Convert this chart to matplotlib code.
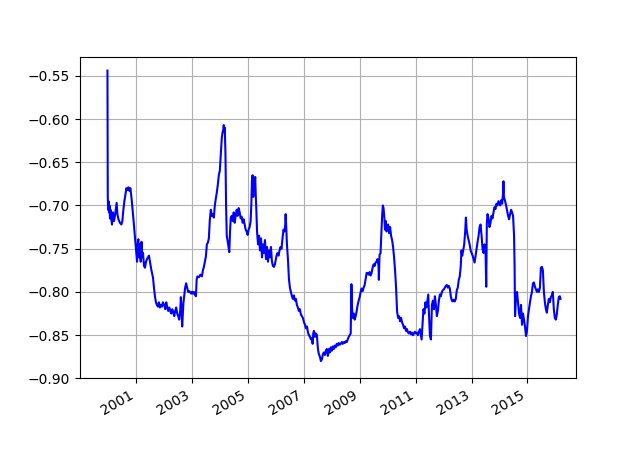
import matplotlib
matplotlib.use("Agg")
import matplotlib.pyplot as plt
import matplotlib.dates as mdates
import pandas as pd

# spread series
dates = [
    "1999-12-20", "1999-12-24", "1999-12-29", "2000-01-03", "2000-01-09", "2000-01-16",
    "2000-01-22", "2000-01-29", "2000-02-04", "2000-02-17", "2000-03-01", "2000-03-14",
    "2000-03-27", "2000-04-09", "2000-04-18", "2000-04-28", "2000-05-12", "2000-05-31",
    "2000-06-19", "2000-07-02", "2000-07-15", "2000-07-28", "2000-08-10", "2000-08-23",
    "2000-09-06", "2000-09-19", "2000-10-02", "2000-10-15", "2000-10-28", "2000-11-10",
    "2000-11-23", "2000-12-07", "2000-12-20", "2001-01-03",
    "2001-01-10", "2001-01-17", "2001-01-27", "2001-02-05", "2001-02-12", "2001-02-18",
    "2001-02-27", "2001-03-10", "2001-03-20", "2001-03-29", "2001-04-11", "2001-04-24",
    "2001-05-07", "2001-05-20", "2001-06-02", "2001-06-15", "2001-06-28", "2001-07-11",
    "2001-07-24", "2001-08-06", "2001-08-19", "2001-09-01", "2001-09-14", "2001-09-27",
    "2001-10-10", "2001-10-23", "2001-11-05", "2001-11-18", "2001-12-01", "2001-12-14",
    "2002-01-01", "2002-01-14", "2002-01-27", "2002-02-09", "2002-02-22", "2002-03-07",
    "2002-03-20", "2002-04-02", "2002-04-15", "2002-04-28", "2002-05-11", "2002-05-24",
    "2002-06-06", "2002-06-19", "2002-07-02", "2002-07-15", "2002-07-28", "2002-08-06",
    "2002-08-14", "2002-08-23", "2002-08-30", "2002-09-09", "2002-09-18", "2002-10-01",
    "2002-10-14", "2002-10-27", "2002-11-09", "2002-11-22", "2002-12-05", "2002-12-18",
    "2002-12-31",
    "2003-01-11", "2003-01-24", "2003-02-06", "2003-02-19", "2003-02-28", "2003-03-10",
    "2003-03-30", "2003-04-18", "2003-05-08", "2003-05-21", "2003-06-03", "2003-06-16",
    "2003-06-29", "2003-07-12", "2003-07-25", "2003-08-07", "2003-08-20", "2003-09-02",
    "2003-09-15", "2003-09-28", "2003-10-11", "2003-10-24", "2003-11-06", "2003-11-19",
    "2003-12-02", "2003-12-15", "2003-12-28",
    "2004-01-10", "2004-01-23", "2004-02-01", "2004-02-12", "2004-02-18", "2004-02-25",
    "2004-03-02", "2004-03-11", "2004-03-19", "2004-03-28", "2004-04-10", "2004-04-23",
    "2004-04-30", "2004-05-10", "2004-05-19", "2004-06-01", "2004-06-14", "2004-06-27",
    "2004-07-10", "2004-07-23", "2004-08-05", "2004-08-18", "2004-08-31", "2004-09-13",
    "2004-09-26", "2004-10-09", "2004-10-22", "2004-11-04", "2004-11-17", "2004-11-30",
    "2004-12-13", "2004-12-26",
    "2005-01-08", "2005-01-21", "2005-02-03", "2005-02-12", "2005-02-20", "2005-03-01",
    "2005-03-10", "2005-03-17", "2005-03-26", "2005-04-04", "2005-04-12", "2005-04-18",
    "2005-04-28", "2005-05-11", "2005-05-24", "2005-06-06", "2005-06-19", "2005-07-02",
    "2005-07-15", "2005-07-28", "2005-08-10", "2005-08-23", "2005-09-05", "2005-09-18",
    "2005-10-01", "2005-10-14", "2005-10-27", "2005-11-09", "2005-11-22", "2005-12-05",
    "2005-12-18",
    "2006-01-08", "2006-01-21", "2006-02-03", "2006-02-16", "2006-03-01", "2006-03-14",
    "2006-03-27", "2006-04-09", "2006-04-22", "2006-05-02", "2006-05-07", "2006-05-15",
    "2006-05-24", "2006-06-06", "2006-06-19", "2006-07-02", "2006-07-15", "2006-07-28",
    "2006-08-10", "2006-08-23", "2006-09-05", "2006-09-18", "2006-10-01", "2006-10-14",
    "2006-10-27", "2006-11-09", "2006-11-22", "2006-12-05", "2006-12-18",
    "2007-01-02", "2007-01-15", "2007-01-28", "2007-02-10", "2007-02-23", "2007-03-08",
    "2007-03-21", "2007-04-03", "2007-04-16", "2007-04-25", "2007-05-03", "2007-05-12",
    "2007-05-25", "2007-06-07", "2007-06-20", "2007-07-03", "2007-07-16", "2007-07-29",
    "2007-08-11", "2007-08-24", "2007-09-06", "2007-09-19", "2007-10-02", "2007-10-15",
    "2007-10-28", "2007-11-10", "2007-11-23", "2007-12-06", "2007-12-19",
    "2008-01-01", "2008-01-14", "2008-01-27", "2008-02-09", "2008-02-22", "2008-03-06",
    "2008-03-19", "2008-04-01", "2008-04-14", "2008-04-27", "2008-05-10", "2008-05-23",
    "2008-06-05", "2008-06-18", "2008-07-01", "2008-07-14", "2008-07-27", "2008-08-09",
    "2008-08-22", "2008-09-04", "2008-09-13", "2008-09-21", "2008-09-30", "2008-10-13",
    "2008-10-26", "2008-11-08", "2008-11-21", "2008-12-04", "2008-12-17", "2008-12-30",
    "2009-01-12", "2009-01-25", "2009-02-07", "2009-02-20", "2009-03-05", "2009-03-18",
    "2009-03-31", "2009-04-13", "2009-04-26", "2009-05-09", "2009-05-22", "2009-06-04",
    "2009-06-17", "2009-06-30", "2009-07-13", "2009-07-26", "2009-08-08", "2009-08-21",
    "2009-09-03", "2009-09-07", "2009-09-16", "2009-09-29", "2009-10-08", "2009-10-19",
    "2009-10-29", "2009-11-07", "2009-11-16", "2009-11-27", "2009-12-07", "2009-12-16",
    "2010-01-06", "2010-01-19", "2010-02-01", "2010-02-14", "2010-02-27", "2010-03-12",
    "2010-03-25", "2010-04-07", "2010-04-20", "2010-05-03", "2010-05-16", "2010-05-29",
    "2010-06-11", "2010-06-24", "2010-07-07", "2010-07-20", "2010-08-02", "2010-08-15",
    "2010-08-28", "2010-09-10", "2010-09-23", "2010-10-06", "2010-10-19", "2010-11-01",
    "2010-11-14", "2010-11-27", "2010-12-10", "2010-12-23",
    "2011-01-05", "2011-01-18", "2011-01-31", "2011-02-13", "2011-02-26", "2011-03-11",
    "2011-03-20", "2011-03-31", "2011-04-13", "2011-04-26", "2011-05-09", "2011-05-22",
    "2011-06-04", "2011-06-15", "2011-06-24", "2011-07-07", "2011-07-20", "2011-08-02",
    "2011-08-15", "2011-08-28", "2011-09-10", "2011-09-23", "2011-10-06", "2011-10-19",
    "2011-11-01", "2011-11-14", "2011-11-27", "2011-12-10", "2011-12-23",
    "2012-01-05", "2012-01-18", "2012-01-31", "2012-02-13", "2012-02-26", "2012-03-10",
    "2012-03-23", "2012-04-05", "2012-04-18", "2012-05-01", "2012-05-14", "2012-05-27",
    "2012-06-09", "2012-06-22", "2012-07-05", "2012-07-18", "2012-07-31", "2012-08-13",
    "2012-08-22", "2012-09-01", "2012-09-14", "2012-09-27", "2012-10-10", "2012-10-19",
    "2012-10-29", "2012-11-11", "2012-11-24", "2012-12-07", "2012-12-20",
    "2013-01-02", "2013-01-15", "2013-01-28", "2013-02-10", "2013-02-23", "2013-03-08",
    "2013-03-21", "2013-04-03", "2013-04-16", "2013-04-29", "2013-05-12", "2013-05-25",
    "2013-06-07", "2013-06-20", "2013-07-03", "2013-07-12", "2013-07-20", "2013-07-29",
    "2013-08-11", "2013-08-24", "2013-09-06", "2013-09-19", "2013-10-02", "2013-10-15",
    "2013-10-28", "2013-11-10", "2013-11-23", "2013-12-06", "2013-12-19",
    "2014-01-10", "2014-01-23", "2014-02-05", "2014-02-18", "2014-02-22", "2014-02-28",
    "2014-03-16", "2014-03-29", "2014-04-11", "2014-04-24", "2014-05-07", "2014-05-20",
    "2014-06-02", "2014-06-15", "2014-06-28", "2014-07-11", "2014-07-18", "2014-07-24",
    "2014-08-06", "2014-08-19", "2014-09-01", "2014-09-14", "2014-09-27", "2014-10-10",
    "2014-10-23", "2014-11-05", "2014-11-18", "2014-12-01", "2014-12-14", "2014-12-27",
    "2015-01-09", "2015-01-22", "2015-02-04", "2015-02-17", "2015-03-02", "2015-03-15",
    "2015-03-28", "2015-04-10", "2015-04-23", "2015-05-06", "2015-05-19", "2015-06-01",
    "2015-06-14", "2015-06-27", "2015-07-10", "2015-07-23", "2015-08-05", "2015-08-18",
    "2015-08-31", "2015-09-13", "2015-09-26", "2015-10-09", "2015-10-22", "2015-11-04",
    "2015-11-17", "2015-11-30", "2015-12-13", "2015-12-26",
    "2016-01-08", "2016-01-21", "2016-02-03", "2016-02-16", "2016-02-29", "2016-03-09",
]

values = [
    -0.544, -0.690, -0.705, -0.695, -0.708, -0.700,
    -0.715, -0.705, -0.712, -0.722, -0.708, -0.718,
    -0.712, -0.703, -0.697, -0.710, -0.716, -0.720,
    -0.722, -0.718, -0.705, -0.695, -0.688, -0.680,
    -0.682, -0.679, -0.683, -0.680, -0.690, -0.702,
    -0.715, -0.730, -0.745, -0.758,
    -0.765, -0.745, -0.739, -0.760, -0.745, -0.752,
    -0.765, -0.742, -0.760, -0.755, -0.770, -0.772,
    -0.765, -0.762, -0.760, -0.758, -0.765, -0.772,
    -0.778, -0.783, -0.795, -0.805, -0.812, -0.815,
    -0.817, -0.812, -0.818, -0.815, -0.817, -0.812,
    -0.815, -0.820, -0.812, -0.818, -0.822, -0.818,
    -0.822, -0.825, -0.820, -0.823, -0.828, -0.822,
    -0.818, -0.825, -0.828, -0.832, -0.822, -0.806,
    -0.820, -0.840, -0.828, -0.812, -0.805, -0.795,
    -0.790, -0.795, -0.800, -0.799, -0.800, -0.802,
    -0.800,
    -0.802, -0.800, -0.803, -0.805, -0.786, -0.782,
    -0.783, -0.780, -0.782, -0.775, -0.771, -0.765,
    -0.759, -0.745, -0.743, -0.738, -0.716, -0.705,
    -0.712, -0.710, -0.714, -0.700, -0.692, -0.685,
    -0.676, -0.665, -0.660,
    -0.640, -0.622, -0.616, -0.612, -0.607, -0.615,
    -0.610, -0.640, -0.700, -0.735, -0.742, -0.750,
    -0.754, -0.730, -0.715, -0.712, -0.718, -0.708,
    -0.720, -0.712, -0.705, -0.712, -0.703, -0.708,
    -0.715, -0.713, -0.720, -0.716, -0.722, -0.728,
    -0.730, -0.734,
    -0.728, -0.725, -0.718, -0.700, -0.672, -0.665,
    -0.690, -0.668, -0.680, -0.667, -0.690, -0.703,
    -0.730, -0.745, -0.735, -0.752, -0.738, -0.760,
    -0.745, -0.755, -0.740, -0.762, -0.748, -0.765,
    -0.752, -0.760, -0.748, -0.765, -0.770, -0.771,
    -0.768,
    -0.758, -0.755, -0.758, -0.752, -0.748, -0.750,
    -0.738, -0.728, -0.730, -0.722, -0.710, -0.725,
    -0.745, -0.762, -0.785, -0.795, -0.800, -0.805,
    -0.808, -0.804, -0.810, -0.808, -0.815, -0.818,
    -0.822, -0.820, -0.826, -0.828, -0.830,
    -0.835, -0.838, -0.842, -0.840, -0.847, -0.850,
    -0.852, -0.855, -0.853, -0.860, -0.848, -0.845,
    -0.852, -0.848, -0.850, -0.866, -0.872, -0.875,
    -0.880, -0.878, -0.872, -0.870, -0.873, -0.868,
    -0.866, -0.874, -0.866, -0.870, -0.864,
    -0.868, -0.863, -0.866, -0.862, -0.864, -0.860,
    -0.862, -0.859, -0.861, -0.860, -0.858, -0.860,
    -0.858, -0.859, -0.857, -0.858, -0.855, -0.852,
    -0.850, -0.848, -0.791, -0.818, -0.830, -0.825,
    -0.832, -0.828, -0.822, -0.815, -0.810, -0.806,
    -0.800, -0.796, -0.799, -0.795, -0.792, -0.785,
    -0.778, -0.778, -0.780, -0.777, -0.781, -0.778,
    -0.772, -0.768, -0.770, -0.766, -0.765, -0.762,
    -0.770, -0.786, -0.757, -0.755, -0.736, -0.713,
    -0.700, -0.703, -0.712, -0.728, -0.718, -0.730,
    -0.722, -0.732, -0.725, -0.735, -0.740, -0.748,
    -0.760, -0.775, -0.795, -0.822, -0.830, -0.828,
    -0.834, -0.830, -0.835, -0.838, -0.842, -0.840,
    -0.845, -0.843, -0.847, -0.848, -0.846, -0.849,
    -0.847, -0.850, -0.848, -0.846,
    -0.848, -0.847, -0.850, -0.846, -0.843, -0.850,
    -0.855, -0.838, -0.820, -0.825, -0.812, -0.818,
    -0.810, -0.803, -0.825, -0.851, -0.855, -0.815,
    -0.810, -0.820, -0.805, -0.815, -0.828, -0.822,
    -0.810, -0.803, -0.805, -0.800, -0.798,
    -0.797, -0.795, -0.793, -0.792, -0.795, -0.793,
    -0.796, -0.805, -0.810, -0.811, -0.809, -0.811,
    -0.808, -0.798, -0.795, -0.786, -0.782, -0.770,
    -0.752, -0.758, -0.752, -0.745, -0.730, -0.714,
    -0.728, -0.735, -0.740, -0.745, -0.752,
    -0.755, -0.758, -0.762, -0.766, -0.758, -0.750,
    -0.742, -0.735, -0.725, -0.722, -0.735, -0.750,
    -0.755, -0.745, -0.752, -0.794, -0.720, -0.710,
    -0.715, -0.725, -0.720, -0.712, -0.715, -0.708,
    -0.702, -0.704, -0.698, -0.700, -0.695,
    -0.700, -0.694, -0.698, -0.685, -0.672, -0.690,
    -0.695, -0.700, -0.706, -0.712, -0.716, -0.710,
    -0.705, -0.708, -0.712, -0.735, -0.770, -0.828,
    -0.805, -0.800, -0.812, -0.825, -0.830, -0.815,
    -0.838, -0.825, -0.832, -0.840, -0.851, -0.845,
    -0.828, -0.820, -0.812, -0.805, -0.800, -0.790,
    -0.789, -0.794, -0.797, -0.800, -0.797, -0.800,
    -0.795, -0.772, -0.771, -0.775, -0.800, -0.812,
    -0.820, -0.824, -0.815, -0.808, -0.812, -0.806,
    -0.804, -0.800, -0.820, -0.830,
    -0.832, -0.826, -0.815, -0.806, -0.805, -0.808,
]

tick_years = [2001, 2003, 2005, 2007, 2009, 2011, 2013, 2015]

series = pd.Series(values, index=pd.to_datetime(dates))

fig, ax = plt.subplots(figsize=(6.4, 4.73), dpi=100)
ax.plot(series.index, series.values, color="b", linewidth=1.5)

ax.set_xticks([pd.Timestamp(f"{y}-01-01") for y in tick_years])
ax.xaxis.set_major_formatter(mdates.DateFormatter("%Y"))
ax.set_xlim(pd.Timestamp("1998-12-26"), pd.Timestamp("2016-09-28"))
ax.set_ylim(-0.90, -0.528)
ax.grid(True)
fig.autofmt_xdate()

plt.savefig("out.png", dpi=100)
plt.close()
